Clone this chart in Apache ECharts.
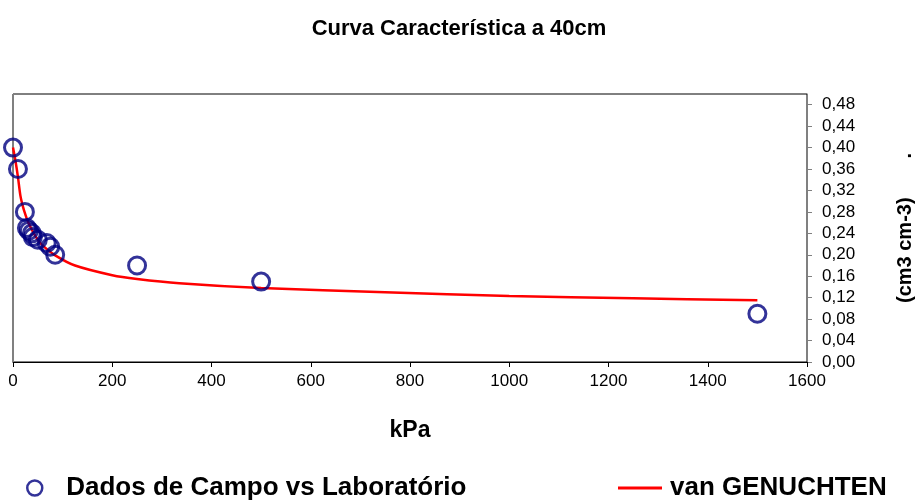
<!DOCTYPE html>
<html>
<head>
<meta charset="utf-8">
<script src="https://cdn.jsdelivr.net/npm/echarts@6/dist/echarts.min.js"></script>
<style>html,body{margin:0;padding:0;background:#fff}#c{width:918px;height:500px}</style>
</head>
<body>
<div id="c"></div>
<script>
// Observed data: [kPa, theta]
var obsKPa   = [0, 10, 24, 28, 32, 38, 40, 50, 68, 75, 85, 250, 500, 1500];
var obsTheta = [0.40, 0.36, 0.28, 0.25, 0.245, 0.24, 0.233, 0.228, 0.222, 0.215, 0.20, 0.18, 0.15, 0.09];
// van Genuchten curve
var vgKPa   = [0, 5, 10, 15, 20, 25, 30, 40, 50, 60, 85, 125, 200, 250, 335, 500, 750, 1000, 1250, 1500];
var vgTheta = [0.40, 0.375, 0.345, 0.31, 0.29, 0.275, 0.262, 0.243, 0.228, 0.217, 0.199, 0.18, 0.162, 0.155, 0.147, 0.138, 0.13, 0.123, 0.119, 0.115];
var xTicks = [0, 200, 400, 600, 800, 1000, 1200, 1400, 1600];
var yTicks = [0, 0.04, 0.08, 0.12, 0.16, 0.20, 0.24, 0.28, 0.32, 0.36, 0.40, 0.44, 0.48];

var FONT = 'Liberation Sans, Arial, sans-serif';
var obs = obsKPa.map(function(k, i){ return [k, obsTheta[i]]; });
var vg = vgKPa.map(function(k, i){ return [k, vgTheta[i]]; });

var chart = echarts.init(document.getElementById('c'));
chart.setOption({
  animation: false,
  backgroundColor: '#fff',
  title: {
    text: 'Curva Característica a 40cm',
    left: 'center', top: 13,
    textStyle: {fontFamily: FONT, fontSize: 22, fontWeight: 'bold', color: '#000'}
  },
  legend: [
    {
      data: [{name: 'Dados de Campo vs Laboratório', icon: 'circle',
              itemStyle: {color: 'rgba(0,0,0,0)', borderColor: '#000080', borderWidth: 2.5}}],
      left: 21, top: 470, itemWidth: 15, itemHeight: 15,
      textStyle: {fontFamily: FONT, fontSize: 26, fontWeight: 'bold', color: '#000', padding: [0, 0, 0, 19]}
    },
    {
      data: [{name: 'van GENUCHTEN', icon: 'rect', itemStyle: {color: '#ff0000'}}],
      left: 613, top: 470, itemWidth: 44, itemHeight: 3,
      textStyle: {fontFamily: FONT, fontSize: 26, fontWeight: 'bold', color: '#000', padding: [0, 0, 0, 3]}
    }
  ],
  grid: {left: 13, right: 111, top: 94, bottom: 138, show: true, borderColor: '#000', borderWidth: 1,
         containLabel: false, outerBoundsMode: 'none'},
  xAxis: {
    type: 'value', min: 0, max: 1600, interval: 200,
    name: 'kPa', nameLocation: 'middle', nameGap: 57,
    nameTextStyle: {fontFamily: FONT, fontSize: 23, fontWeight: 'bold', color: '#000'},
    axisLine: {show: true, onZero: false, lineStyle: {color: '#000', width: 1}},
    axisTick: {show: true, length: 5, lineStyle: {color: '#000'}},
    axisLabel: {fontFamily: FONT, fontSize: 17, color: '#000', margin: 11,
      formatter: function(v){ return String(v); }},
    splitLine: {show: false}
  },
  yAxis: [
    {
      type: 'value', position: 'right', min: 0, max: 0.5, interval: 0.04,
      name: '(cm3 cm-3)       .', nameLocation: 'middle', nameGap: 88, nameRotate: 90,
      nameTextStyle: {fontFamily: FONT, fontSize: 20, fontWeight: 'bold', color: '#000'},
      axisLine: {show: true, onZero: false, lineStyle: {color: '#808080', width: 1}},
      axisTick: {show: true, length: 5, lineStyle: {color: '#808080'}},
      axisLabel: {fontFamily: FONT, fontSize: 17, color: '#000', margin: 15, showMaxLabel: false,
        formatter: function(v){ return v.toFixed(2).replace('.', ','); }},
      splitLine: {show: false}
    },
    {
      type: 'value', position: 'left', min: 0, max: 0.5, interval: 0.04,
      axisLine: {show: true, onZero: false, lineStyle: {color: '#808080', width: 1}},
      axisTick: {show: false},
      axisLabel: {show: false}, splitLine: {show: false}
    }
  ],
  series: [
    {
      name: 'van GENUCHTEN', type: 'line', data: vg, smooth: 0.3, symbol: 'none', z: 2,
      lineStyle: {color: '#ff0000', width: 2.5}, itemStyle: {color: '#ff0000'}
    },
    {
      name: 'Dados de Campo vs Laboratório', type: 'scatter', data: obs, z: 3,
      symbol: 'circle', symbolSize: 17,
      itemStyle: {color: 'rgba(0,0,0,0)', borderColor: '#000080', borderWidth: 3}
    }
  ]
});
</script>
</body>
</html>
